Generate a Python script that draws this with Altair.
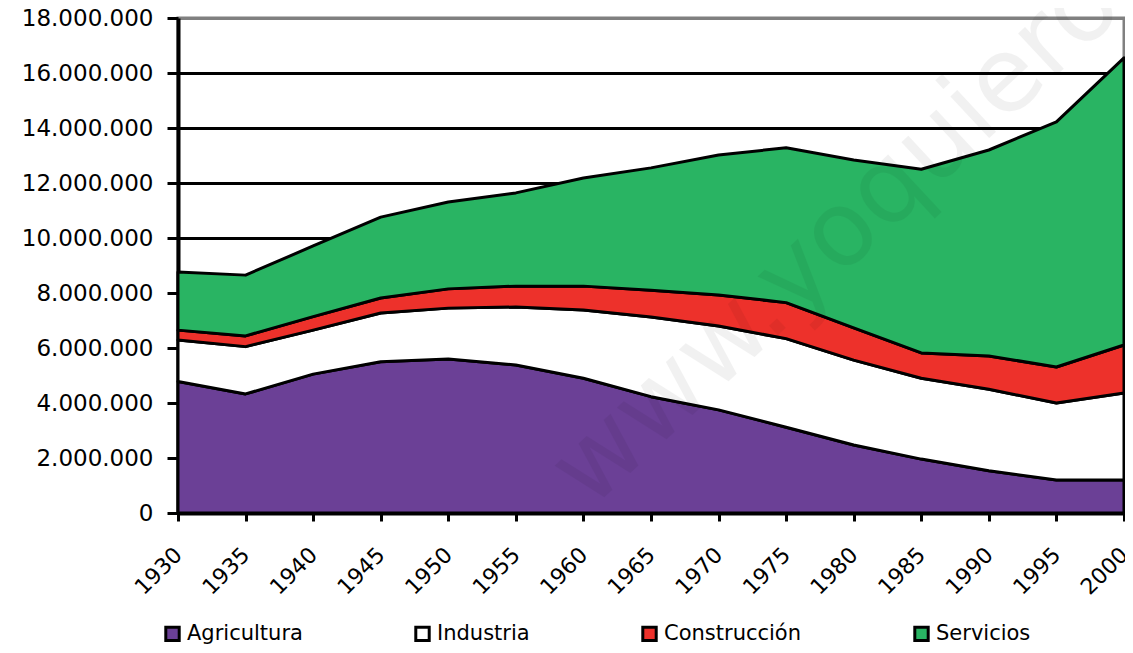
import altair as alt
import pandas as pd

years = [1930, 1935, 1940, 1945, 1950, 1955, 1960, 1965, 1970, 1975, 1980, 1985, 1990, 1995, 2000]
sectors = ["Agricultura", "Industria", "Construcción", "Servicios"]
colors = ["#6B4096", "#FFFFFF", "#ED312B", "#29B463"]

agricultura = [4780000, 4330000, 5050000, 5500000, 5600000, 5380000, 4900000, 4230000,
               3750000, 3120000, 2470000, 1960000, 1540000, 1200000, 1200000]
industria = [1510000, 1720000, 1600000, 1770000, 1850000, 2110000, 2480000, 2900000,
             3050000, 3220000, 3090000, 2940000, 2960000, 2800000, 3160000]
construccion = [360000, 390000, 490000, 550000, 700000, 760000, 870000, 970000,
                1130000, 1310000, 1170000, 920000, 1210000, 1310000, 1750000]
servicios = [2110000, 2210000, 2570000, 2940000, 3160000, 3390000, 3930000, 4450000,
             5090000, 5630000, 6110000, 6680000, 7490000, 8910000, 10440000]

y_ticks = [0, 2000000, 4000000, 6000000, 8000000, 10000000, 12000000, 14000000, 16000000, 18000000]
watermark = "www.yoquieroaprobar.es"

rows = []
for i, (name, series) in enumerate(zip(sectors, [agricultura, industria, construccion, servicios])):
    for yr, v in zip(years, series):
        rows.append({"year": yr, "value": v, "sector": name, "idx": i})
df = pd.DataFrame(rows)

FONT = "DejaVu Sans"

areas = alt.Chart(df).mark_area(
    stroke="black", strokeWidth=3, strokeJoin="round", opacity=1
).encode(
    x=alt.X("year:Q",
            scale=alt.Scale(domain=[1930, 2000], nice=False, zero=False),
            axis=alt.Axis(values=years, format="d", title=None, grid=False,
                          labelAngle=315, labelAlign="right", labelBaseline="middle",
                          labelPadding=30, tickSize=8, tickWidth=3, tickColor="black",
                          domainColor="black", domainWidth=4, labelFontSize=22,
                          labelFont=FONT, labelColor="black", labelOverlap=False,
                          labelFlush=False)),
    y=alt.Y("value:Q", stack="zero",
            scale=alt.Scale(domain=[0, 18000000], nice=False),
            axis=alt.Axis(values=y_ticks, title=None,
                          labelExpr="join(split(format(datum.value, ','), ','), '.')",
                          grid=True,
                          gridColor={"condition": {"test": "datum.value >= 18000000", "value": "#808080"}, "value": "black"},
                          gridWidth=3, tickSize=11, tickWidth=3, tickColor="black",
                          domainColor="black", domainWidth=4, labelPadding=14,
                          labelFontSize=23, labelFont=FONT, labelColor="black")),
    color=alt.Color("sector:N",
                    scale=alt.Scale(domain=sectors, range=colors),
                    legend=alt.Legend(title=None, orient="none", legendX=-16, legendY=605,
                                      direction="horizontal", columns=4,
                                      symbolType="square", symbolSize=180,
                                      symbolStrokeColor="black", symbolStrokeWidth=3,
                                      symbolOpacity=1,
                                      labelFontSize=21, labelFont=FONT, labelColor="black",
                                      labelOffset=4, columnPadding=106, padding=0)),
    order=alt.Order("idx:Q", sort="ascending"),
)

wm = alt.Chart(pd.DataFrame({"t": [watermark]})).mark_text(
    angle=317, align="left", baseline="alphabetic", fontSize=104, font=FONT,
    color="black", opacity=0.05
).encode(
    x=alt.datum(1960.5),
    y=alt.datum(100000),
    text="t:N",
)

chart = alt.layer(areas, wm).properties(
    width=946, height=495,
    autosize=alt.AutoSizeParams(type="none"),
    padding={"left": 170, "top": 10, "right": 1, "bottom": 132},
).configure_view(
    stroke="#808080", strokeWidth=3
)

chart.save("out.html", embed_options={"renderer": "svg", "actions": False})
